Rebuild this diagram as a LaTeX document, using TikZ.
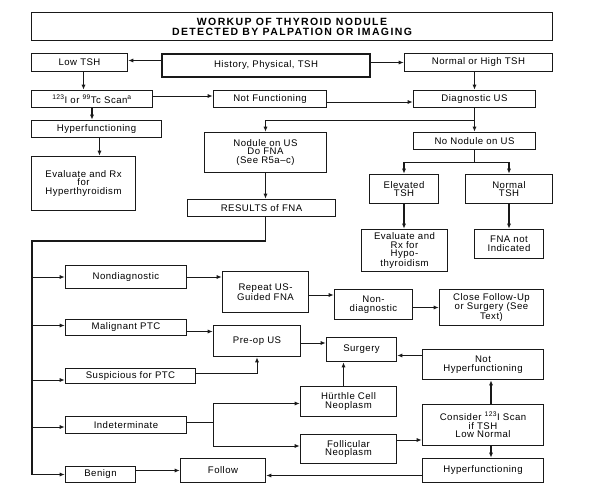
\documentclass[tikz,border=0pt]{standalone}
\usepackage{fontspec}
\newfontfamily\bodyf[LetterSpace=5]{Liberation Sans}
\newfontfamily\titlef[LetterSpace=13]{Liberation Sans}
\usetikzlibrary{arrows.meta}
\begin{document}
\begin{tikzpicture}[x=1pt,y=-1pt,
  box/.style={draw=black!90, line width=1.6pt, fill=white, align=center, inner sep=1pt,
    text=black, font=\bodyf\fontsize{9.6}{8.7}\selectfont},
  titlebox/.style={draw=black!90, line width=0.9pt, fill=white, align=center, inner sep=1pt,
    text=black, font=\titlef\bfseries\fontsize{10.5}{10}\selectfont},
  line/.style={draw=black!90, line width=0.9pt},
  arr/.style={line, -{Latex[length=5pt,width=4pt]}},
  varr/.style={arr, line width=1.4pt},
]
\useasboundingbox (0,0) rectangle (589,488);
\fill[white] (0,0) rectangle (589,488);

% nodes
\node[titlebox, minimum width=521, minimum height=28] (title) at (292,26.5) {WORKUP OF THYROID NODULE\\DETECTED BY PALPATION OR IMAGING};
\node[box, line width=2.8pt, minimum width=208, minimum height=23] (hist) at (266,65.5) {History, Physical, TSH};
\node[box, minimum width=96, minimum height=18] (lowtsh) at (79.5,62.5) {Low TSH};
\node[box, minimum width=148, minimum height=18] (normtsh) at (478.5,62.5) {Normal or High TSH};
\node[box, minimum width=121, minimum height=17] (scan) at (92,99) {\textsuperscript{123}I or \textsuperscript{99}Tc Scan\textsuperscript{a}};
\node[box, minimum width=113, minimum height=17] (notfunc) at (270,99) {Not Functioning};
\node[box, minimum width=122, minimum height=17] (diagus) at (474.5,99) {Diagnostic US};
\node[box, minimum width=130, minimum height=17] (hyper1) at (96.5,129) {Hyperfunctioning};
\node[box, minimum width=104, minimum height=54] (evalhyper) at (83.5,183.5) {Evaluate and Rx\\for\\Hyperthyroidism};
\node[box, minimum width=122, minimum height=40] (nodule) at (265.5,152.5) {Nodule on US\\Do FNA\\(See R5a–c)};
\node[box, minimum width=122, minimum height=17] (nonodule) at (474.5,141) {No Nodule on US};
\node[box, minimum width=69, minimum height=29] (elev) at (404,189) {Elevated\\TSH};
\node[box, minimum width=87, minimum height=29] (normal) at (509,189) {Normal\\TSH};
\node[box, minimum width=86, minimum height=42] (evalhypo) at (404.5,250.5) {Evaluate and\\Rx for\\Hypo-\\thyroidism};
\node[box, minimum width=69, minimum height=29] (fnanot) at (509,244) {FNA not\\Indicated};
\node[box, minimum width=148, minimum height=17] (results) at (261.5,208) {RESULTS of FNA};
\node[box, minimum width=121, minimum height=23] (nondiag) at (126,277) {Nondiagnostic};
\node[box, minimum width=86, minimum height=41] (repeat) at (265.5,292) {Repeat US-\\Guided FNA};
\node[box, minimum width=78, minimum height=30] (nondiag2) at (373.5,304.5) {Non-\\diagnostic};
\node[box, minimum width=104, minimum height=36] (close) at (491.5,307.5) {Close Follow-Up\\or Surgery (See\\Text)};
\node[box, minimum width=121, minimum height=16] (malig) at (126,327.5) {Malignant PTC};
\node[box, minimum width=87, minimum height=31] (preop) at (257,341) {Pre-op US};
\node[box, minimum width=130, minimum height=15] (susp) at (130.5,376) {Suspicious for PTC};
\node[box, minimum width=70, minimum height=24] (surgery) at (361.5,349.5) {Surgery};
\node[box, minimum width=121, minimum height=30] (nothyper) at (483,364.5) {Not\\Hyperfunctioning};
\node[box, minimum width=96, minimum height=30] (hurthle) at (348.5,401.5) {Hürthle Cell\\Neoplasm};
\node[box, minimum width=121, minimum height=17] (indet) at (126,425) {Indeterminate};
\node[box, minimum width=96, minimum height=29] (follic) at (348.5,449) {Follicular\\Neoplasm};
\node[box, minimum width=121, minimum height=41] (consider) at (483,425) {Consider \textsuperscript{123}I Scan\\if TSH\\Low Normal};
\node[box, minimum width=121, minimum height=24] (hyper2) at (483,470.5) {Hyperfunctioning};
\node[box, minimum width=85, minimum height=24] (follow) at (223,470.5) {Follow};
\node[box, minimum width=70, minimum height=16] (benign) at (100.5,474.5) {Benign};

% top connectors
\draw[arr] ([yshift=5pt]hist.west) -- ([yshift=5pt]hist.west -| lowtsh.east);
\draw[arr] (hist.east |- normtsh.west) -- (normtsh.west);
\draw[varr] ([xshift=4pt]lowtsh.south) -- ([xshift=4pt]lowtsh.south |- scan.north);
\draw[varr] (diagus.north |- normtsh.south) -- (diagus.north);
\draw[arr] ([yshift=3pt]scan.east) -- ([yshift=3pt]scan.east -| notfunc.west);
\draw[arr] ([yshift=-3pt]notfunc.east) -- ([yshift=-3pt]notfunc.east -| diagus.west);
\draw[varr] (scan.south) -- (scan.south |- hyper1.north);
\draw[varr] ([xshift=3pt]hyper1.south) -- ([xshift=3pt]hyper1.south |- evalhyper.north);
\draw[varr] (diagus.south) -- (nonodule.north);
\draw[arr] (diagus.south) -- ++(0,12) -| (nodule.north);
\draw[varr] (nonodule.south) -- ++(0,12) -| (elev.north);
\draw[varr] (nonodule.south) -- ++(0,12) -| (normal.north);
\draw[varr] (elev.south) -- (elev.south |- evalhypo.north);
\draw[varr] (normal.south) -- (normal.south |- fnanot.north);
\draw[varr] (nodule.south) -- (nodule.south |- results.north);

% results trunk
\coordinate (tt) at (32,241);
\draw[line, line width=1.4pt] ([xshift=4pt]results.south) |- (tt) -- (tt |- benign.west);
\draw[arr] (tt |- nondiag.west) -- (nondiag.west);
\draw[arr] (tt |- malig.west) ++(0,-2) -- ([yshift=2pt]malig.west);
\draw[arr] ([yshift=-4pt]tt |- susp.west) -- ([yshift=-4pt]susp.west);
\draw[arr] ([yshift=-2pt]tt |- indet.west) -- ([yshift=-2pt]indet.west);
\draw[arr] (tt |- benign.west) -- (benign.west);

% FNA results branches
\draw[arr] (nondiag.east) -- (nondiag.east -| repeat.west);
\draw[arr] ([yshift=-3pt]repeat.east) -- ([yshift=-3pt]repeat.east -| nondiag2.west);
\draw[arr] ([yshift=-3pt]nondiag2.east) -- ([yshift=-3pt]nondiag2.east -| close.west);
\draw[arr] ([yshift=-4pt]malig.east) -- ([yshift=-4pt]malig.east -| preop.west);
\draw[arr] ([yshift=3pt]susp.east) -| (preop.south);
\draw[arr] ([yshift=-2pt]preop.east) -- ([yshift=-2pt]preop.east -| surgery.west);
\draw[arr] ([yshift=-6pt]surgery.east -| nothyper.west) -- ([yshift=-6pt]surgery.east);
\draw[varr] ([xshift=-5pt]hurthle.north) -- ([xshift=-5pt]hurthle.north |- surgery.south);
\coordinate (split) at (213,422);
\draw[line] ([yshift=3pt]indet.east) -- (split);
\draw[arr] (split) |- ([yshift=-2pt]hurthle.west);
\draw[arr] (split) |- ([yshift=3pt]follic.west);
\draw[arr] ([yshift=9pt]follic.east) -- ([yshift=9pt]follic.east -| consider.west);
\draw[varr] ([xshift=8pt]consider.north) -- ([xshift=8pt]consider.north |- nothyper.south);
\draw[varr] ([xshift=8pt]consider.south) -- ([xshift=8pt]consider.south |- hyper2.north);
\draw[arr] ([yshift=-5pt]hyper2.west) -- ([yshift=-5pt]hyper2.west -| follow.east);
\draw[arr] ([yshift=4pt]benign.east) -- ([yshift=4pt]benign.east -| follow.west);
\end{tikzpicture}
\end{document}
